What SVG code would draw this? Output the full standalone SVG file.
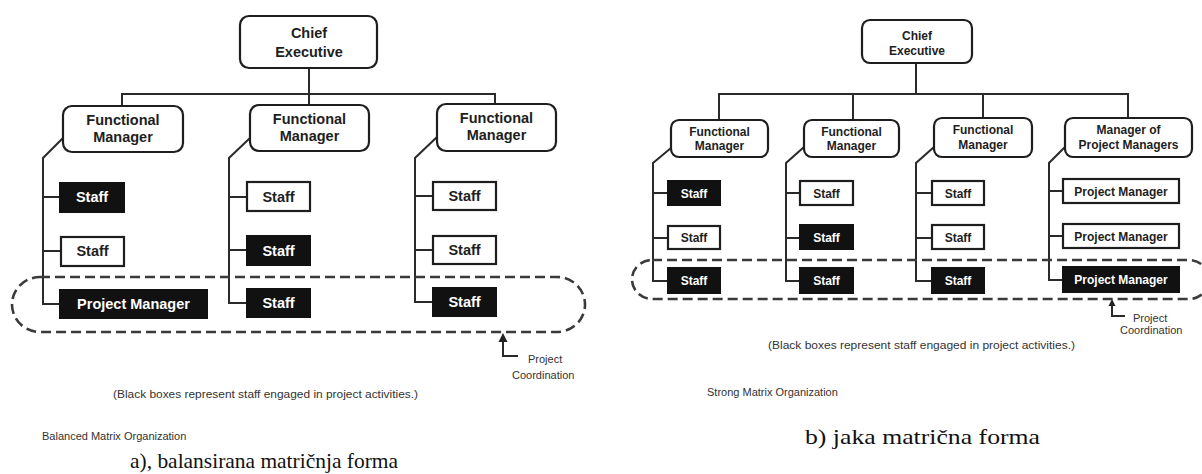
<svg xmlns="http://www.w3.org/2000/svg" width="1202" height="474" viewBox="0 0 1202 474">
<defs>
<style>
.bg{fill:#fff}
.rbox{fill:#fff;stroke:#1e1e1e;stroke-width:2.2}
.wbox{fill:#fff;stroke:#1e1e1e;stroke-width:2.2}
.kbox{fill:#111;stroke:#111;stroke-width:2}
.ln{fill:none;stroke:#2a2a2a;stroke-width:2}
.head{fill:#222;stroke:none}
.dash{fill:none;stroke:#3a3a3a;stroke-width:2.6;stroke-dasharray:10 5}
.tL{font-family:"Liberation Sans",Arial,sans-serif;font-weight:bold;font-size:14.5px;fill:#1e1e1e;text-anchor:middle}
.tLw{font-family:"Liberation Sans",Arial,sans-serif;font-weight:bold;font-size:14.5px;fill:#fff;text-anchor:middle}
.tR{font-family:"Liberation Sans",Arial,sans-serif;font-weight:bold;font-size:12px;fill:#1e1e1e;text-anchor:middle}
.tRw{font-family:"Liberation Sans",Arial,sans-serif;font-weight:bold;font-size:12px;fill:#fff;text-anchor:middle}
.note{font-family:"Liberation Sans",Arial,sans-serif;font-size:11px;fill:#333}
.cap{font-family:"Liberation Serif","Times New Roman",serif;font-size:21px;fill:#111}
</style>
</defs>
<rect class="bg" x="0" y="0" width="1202" height="474"/>

<!-- ===== Left diagram (a) ===== -->
<g id="connectors-a">
<line class="ln" x1="309" y1="68" x2="309" y2="105"/>
<polyline class="ln" points="122,106 122,94 495,94 495,104"/>
<polyline class="ln" points="63,138 43,158 43,304 60,304"/>
<line class="ln" x1="43" y1="197" x2="60" y2="197"/>
<line class="ln" x1="43" y1="251" x2="60" y2="251"/>
<polyline class="ln" points="250,138 229,158 229,303 247,303"/>
<line class="ln" x1="229" y1="197" x2="247" y2="197"/>
<line class="ln" x1="229" y1="250" x2="247" y2="250"/>
<polyline class="ln" points="437,137 415,158 415,302 433,302"/>
<line class="ln" x1="415" y1="196" x2="433" y2="196"/>
<line class="ln" x1="415" y1="250" x2="433" y2="250"/>
<rect class="dash" x="12" y="277" width="573" height="55" rx="28" ry="27.5"/>
<polyline class="ln" points="503,340 503,356 518,356"/>
<path class="head" d="M503,333 L507.5,342 L498.5,342 Z"/>
</g>

<g id="a-chief"><rect class="rbox" x="240" y="16" width="137" height="52" rx="9"/><text class="tL" x="309" y="38">Chief</text><text class="tL" x="309" y="57">Executive</text></g>
<g id="a-fm1"><rect class="rbox" x="63" y="106" width="120" height="46" rx="9"/><text class="tL" x="123" y="125">Functional</text><text class="tL" x="123" y="142">Manager</text></g>
<g id="a-fm2"><rect class="rbox" x="250" y="105" width="119" height="46" rx="9"/><text class="tL" x="309.5" y="124">Functional</text><text class="tL" x="309.5" y="141">Manager</text></g>
<g id="a-fm3"><rect class="rbox" x="437" y="104" width="119" height="47" rx="9"/><text class="tL" x="496.5" y="123">Functional</text><text class="tL" x="496.5" y="140">Manager</text></g>

<g id="a-s11"><rect class="kbox" x="60" y="183" width="64" height="29"/><text class="tLw" x="92" y="202">Staff</text></g>
<g id="a-s12"><rect class="wbox" x="61" y="237" width="63" height="29"/><text class="tL" x="92.5" y="256">Staff</text></g>
<g id="a-s13"><rect class="kbox" x="60" y="290" width="147" height="28"/><text class="tLw" x="133.5" y="309">Project Manager</text></g>

<g id="a-s21"><rect class="wbox" x="247" y="182" width="63" height="29"/><text class="tL" x="278.5" y="201.5">Staff</text></g>
<g id="a-s22"><rect class="kbox" x="247" y="236" width="63" height="29"/><text class="tLw" x="278.5" y="255.5">Staff</text></g>
<g id="a-s23"><rect class="kbox" x="247" y="289" width="63" height="28"/><text class="tLw" x="278.5" y="308">Staff</text></g>

<g id="a-s31"><rect class="wbox" x="433" y="182" width="63" height="28"/><text class="tL" x="464.5" y="201">Staff</text></g>
<g id="a-s32"><rect class="wbox" x="433" y="236" width="63" height="28"/><text class="tL" x="464.5" y="255">Staff</text></g>
<g id="a-s33"><rect class="kbox" x="433" y="288" width="63" height="28"/><text class="tLw" x="464.5" y="307">Staff</text></g>

<g id="a-labels">
<text class="note" x="528" y="363" font-size="11.5">Project</text>
<text class="note" x="512" y="379" font-size="11.5">Coordination</text>
<text class="note" x="113" y="398" textLength="305" lengthAdjust="spacingAndGlyphs">(Black boxes represent staff engaged in project activities.)</text>
<text class="note" x="42" y="440" font-size="10.4" fill="#444">Balanced Matrix Organization</text>
<text class="cap" x="130" y="468" textLength="268" lengthAdjust="spacingAndGlyphs">a), balansirana matričnja forma</text>
</g>

<!-- ===== Right diagram (b) ===== -->
<g id="connectors-b">
<line class="ln" x1="916" y1="63" x2="916" y2="94"/>
<polyline class="ln" points="719,120 719,94 1128,94 1128,118"/>
<line class="ln" x1="853" y1="94" x2="853" y2="120"/>
<line class="ln" x1="983" y1="94" x2="983" y2="118"/>
<polyline class="ln" points="671,148 653,163 653,281 668,281"/>
<line class="ln" x1="653" y1="193" x2="668" y2="193"/>
<line class="ln" x1="653" y1="238" x2="668" y2="238"/>
<polyline class="ln" points="804,147 786,163 786,281 800,281"/>
<line class="ln" x1="786" y1="193" x2="800" y2="193"/>
<line class="ln" x1="786" y1="238" x2="800" y2="238"/>
<polyline class="ln" points="934,147 916,163 916,281 932,281"/>
<line class="ln" x1="916" y1="193" x2="932" y2="193"/>
<line class="ln" x1="916" y1="238" x2="932" y2="238"/>
<polyline class="ln" points="1065,147 1049,163 1049,280 1063,280"/>
<line class="ln" x1="1049" y1="191" x2="1063" y2="191"/>
<line class="ln" x1="1049" y1="236" x2="1063" y2="236"/>
<rect class="dash" x="632" y="260" width="577" height="39" rx="20" ry="19.5"/>
<polyline class="ln" points="1112,305 1112,316 1125,316"/>
<path class="head" d="M1112,299 L1115.5,306 L1108.5,306 Z"/>
</g>

<g id="b-chief"><rect class="rbox" x="862" y="20" width="110" height="43" rx="8"/><text class="tR" x="917" y="40" font-size="13">Chief</text><text class="tR" x="917" y="55" font-size="13">Executive</text></g>
<g id="b-fm1"><rect class="rbox" x="671" y="120" width="97" height="37" rx="8"/><text class="tR" x="719.5" y="135.5">Functional</text><text class="tR" x="719.5" y="150">Manager</text></g>
<g id="b-fm2"><rect class="rbox" x="804" y="120" width="95" height="37" rx="8"/><text class="tR" x="851.5" y="135.5">Functional</text><text class="tR" x="851.5" y="150">Manager</text></g>
<g id="b-fm3"><rect class="rbox" x="934" y="118" width="98" height="39" rx="8"/><text class="tR" x="983" y="134">Functional</text><text class="tR" x="983" y="149">Manager</text></g>
<g id="b-mpm"><rect class="rbox" x="1065" y="118" width="127" height="39" rx="8"/><text class="tR" x="1128.5" y="133.5">Manager of</text><text class="tR" x="1128.5" y="148.5">Project Managers</text></g>

<g id="b-s11"><rect class="kbox" x="668" y="181" width="52" height="24"/><text class="tRw" x="694" y="197.5">Staff</text></g>
<g id="b-s12"><rect class="wbox" x="668" y="226" width="52" height="23"/><text class="tR" x="694" y="242">Staff</text></g>
<g id="b-s13"><rect class="kbox" x="668" y="268" width="52" height="25"/><text class="tRw" x="694" y="285">Staff</text></g>

<g id="b-s21"><rect class="wbox" x="800" y="181" width="53" height="24"/><text class="tR" x="826.5" y="197.5">Staff</text></g>
<g id="b-s22"><rect class="kbox" x="800" y="225" width="53" height="24"/><text class="tRw" x="826.5" y="241.5">Staff</text></g>
<g id="b-s23"><rect class="kbox" x="800" y="268" width="53" height="25"/><text class="tRw" x="826.5" y="285">Staff</text></g>

<g id="b-s31"><rect class="wbox" x="932" y="181" width="52" height="24"/><text class="tR" x="958" y="197.5">Staff</text></g>
<g id="b-s32"><rect class="wbox" x="932" y="225" width="52" height="24"/><text class="tR" x="958" y="241.5">Staff</text></g>
<g id="b-s33"><rect class="kbox" x="932" y="268" width="52" height="25"/><text class="tRw" x="958" y="285">Staff</text></g>

<g id="b-pm1"><rect class="wbox" x="1063" y="179" width="116" height="24"/><text class="tR" x="1121" y="195.5">Project Manager</text></g>
<g id="b-pm2"><rect class="wbox" x="1063" y="224" width="116" height="24"/><text class="tR" x="1121" y="240.5">Project Manager</text></g>
<g id="b-pm3"><rect class="kbox" x="1063" y="267" width="116" height="25"/><text class="tRw" x="1121" y="284">Project Manager</text></g>

<g id="b-labels">
<text class="note" x="1133" y="322" font-size="10">Project</text>
<text class="note" x="1120" y="334" font-size="10">Coordination</text>
<text class="note" x="768" y="349" font-size="10.5" textLength="307" lengthAdjust="spacingAndGlyphs">(Black boxes represent staff engaged in project activities.)</text>
<text class="note" x="707" y="396" font-size="9" fill="#444">Strong Matrix Organization</text>
<text class="cap" x="805" y="444" font-size="22" textLength="235" lengthAdjust="spacingAndGlyphs">b) jaka matrična forma</text>
</g>
</svg>
